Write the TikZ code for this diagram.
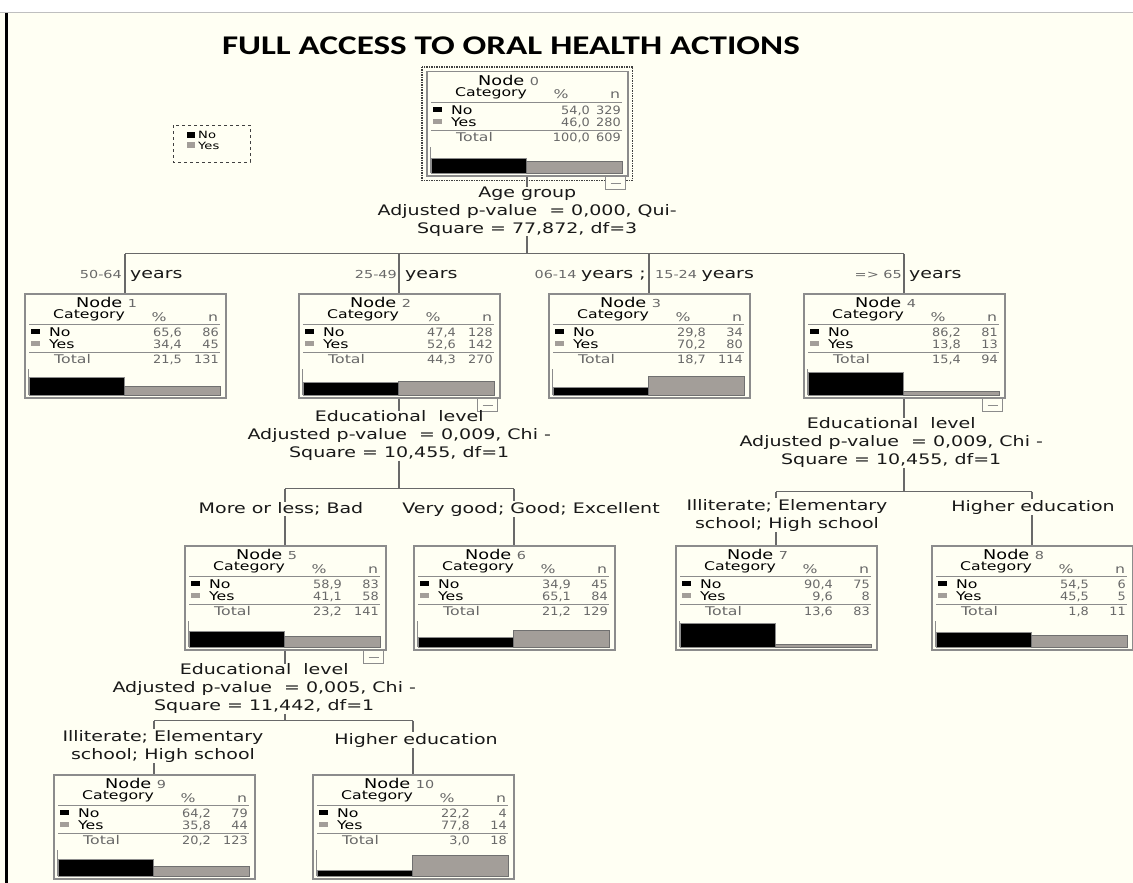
\documentclass[tikz,border=0pt]{standalone}
\usepackage{fontspec}
\usetikzlibrary{positioning}

\newfontfamily\treefont[FakeStretch=1.31]{DejaVu Sans}
\newfontfamily\numfont[FakeStretch=1.12]{DejaVu Sans}
\newfontfamily\titlefont[FakeStretch=1.3]{Carlito}

\definecolor{bg}{RGB}{255,255,243}
\definecolor{boxgray}{RGB}{140,140,140}
\definecolor{linkgray}{RGB}{105,105,105}
\definecolor{numgray}{RGB}{105,105,105}
\definecolor{bargray}{RGB}{163,158,153}
\definecolor{textdark}{RGB}{25,25,25}

\newcommand\pct[1]{\pgfmathprintnumber[fixed,fixed zerofill,precision=1,use comma,assume math mode=true]{#1}}

\tikzset{
  boxframe/.style={draw=boxgray, line width=1.5pt, minimum width=201pt,
    minimum height=104pt, inner sep=0pt, anchor=north west},
  link/.style={draw=linkgray, line width=1.6pt},
  rule/.style={draw=boxgray, line width=1pt},
  toggle/.style={draw=boxgray, line width=1pt},
  cell/.style={inner sep=0pt, text=black, font=\treefont\fontsize{12}{12}\selectfont},
  cellgray/.style={cell, text=numgray},
  cellnum/.style={inner sep=0pt, text=numgray, font=\numfont\fontsize{11.5}{11.5}\selectfont},
  splittext/.style={align=center, inner sep=0pt, text=textdark,
    font=\treefont\fontsize{14.5}{18}\selectfont},
  edgelabel/.style={splittext, fill=bg, inner sep=1pt},
  agenum/.style={inner sep=0pt, text=numgray, font=\treefont\fontsize{11}{11}\selectfont},
  ageword/.style={inner sep=0pt, text=textdark, font=\treefont\fontsize{14.5}{14.5}\selectfont},
}

\begin{document}
\begin{tikzpicture}[x=1pt,y=-1pt]
  \useasboundingbox (0,0) rectangle (1133,883);
  \fill[white] (0,0) rectangle (1133,883);
  \fill[bg] (0,13) rectangle (1133,883);
  \draw[gray!50, line width=1pt] (0,13) -- (1133,13);
  \draw[line width=3pt] (6,13) -- (6,883);

  \node[font=\titlefont\bfseries\fontsize{27}{27}\selectfont, inner sep=0pt] (title)
    at (511,46) {FULL ACCESS TO ORAL HEALTH ACTIONS};

  % legend
  \draw[dashed, draw=darkgray, line width=1pt] (173,125) rectangle (250,162);
  \fill[black] (187,132) rectangle (195,138);
  \fill[bargray] (187,142) rectangle (195,148);
  \node[cell, font=\treefont\fontsize{10}{10}\selectfont, anchor=base west] (legno) at (198,139) {No};
  \node[cell, font=\treefont\fontsize{10}{10}\selectfont, anchor=base west] (legyes) at (198,149) {Yes};

  % tree nodes: left/top/number/%-column/% no/n no/% yes/n yes/% total/n total
  \foreach \L/\T/\k/\pc/\pn/\nn/\py/\ny/\pt/\nt in {
      426/71/0/164/54.0/329/46.0/280/100.0/609,
      24/293/1/158/65.6/86/34.4/45/21.5/131,
      298/293/2/158/47.4/128/52.6/142/44.3/270,
      548/293/3/158/29.8/34/70.2/80/18.7/114,
      803/293/4/158/86.2/81/13.8/13/15.4/94,
      184/545/5/158/58.9/83/41.1/58/23.2/141,
      413/545/6/158/34.9/45/65.1/84/21.2/129,
      675/545/7/158/90.4/75/9.6/8/13.6/83,
      931/545/8/158/54.5/6/45.5/5/1.8/11,
      53/774/9/158/64.2/79/35.8/44/20.2/123,
      312/774/10/158/22.2/4/77.8/14/3.0/18}{
    \begin{scope}[shift={(\L,\T)}]
      \node[boxframe] (n\k) at (0,0) {};
      \node[cell, font=\treefont\fontsize{13.5}{13.5}\selectfont, anchor=base west]
        at (52,14.5) {Node \textcolor{numgray}{\fontsize{11}{11}\selectfont\k}};
      \node[cell, anchor=base west] at (29,25.5) {Category};
      \node[cellgray, anchor=base] at (135,28) {\%};
      \node[cellgray, anchor=base] at (189,28) {n};
      \draw[rule] (5,31) -- (196,31);
      \fill[black] (7,36) rectangle (16,41);
      \node[cell, anchor=base west] at (25,43) {No};
      \node[cellnum, anchor=base east] at (\pc,43) {\pct{\pn}};
      \node[cellnum, anchor=base east] at (195,43) {\nn};
      \fill[bargray] (7,48) rectangle (16,53);
      \node[cell, anchor=base west] at (25,55) {Yes};
      \node[cellnum, anchor=base east] at (\pc,55) {\pct{\py}};
      \node[cellnum, anchor=base east] at (195,55) {\ny};
      \draw[rule] (5,59) -- (196,59);
      \node[cellgray, anchor=base west] at (30,70) {Total};
      \node[cellnum, anchor=base east] at (\pc,70) {\pct{\pt}};
      \node[cellnum, anchor=base east] at (195,70) {\nt};
      \draw[rule] (4,76) -- (4,102);
      \filldraw[fill=black, draw=boxgray, line width=1pt] (5,102) rectangle (100,{102-0.26*\pn});
      \filldraw[fill=bargray, draw=boxgray!80!black, line width=1pt] (100,102) rectangle (196,{102-0.26*\py});
    \end{scope}
  }

  % selection frame and collapse marks
  \draw[densely dotted, draw=darkgray, line width=1.5pt]
    ([shift={(-4pt,4pt)}]n0.north west) rectangle ([shift={(4pt,-4pt)}]n0.south east);
  \foreach \m in {0,2,4,5} {
    \draw[toggle, fill=bg] ([xshift=-23pt]n\m.south east) rectangle ++(20,13);
    \draw[toggle] ([xshift=-18pt,yshift=-7pt]n\m.south east) -- ++(10,0);
  }

  % splits
  \node[splittext, below=10pt of n0] (s0)
    {Age group\\Adjusted p-value~ = 0,000, Qui-\\Square = 77,872, df=3};
  \path (n0.south) ++(0,77) coordinate (j0);
  \draw[link] (n0.south) -- (s0.north);
  \draw[link] (s0.south) -- (j0);
  \draw[link] (n1.north |- j0) -- (n4.north |- j0);
  \foreach \c in {1,...,4} \draw[link] (n\c.north |- j0) -- (n\c.north);

  \node[splittext, below=12pt of n2] (s2)
    {Educational~ level\\Adjusted p-value~ = 0,009, Chi -\\Square = 10,455, df=1};
  \path (n2.south) ++(0,90) coordinate (j2);
  \draw[link] (n2.south) -- (s2.north);
  \draw[link] (s2.south) -- (j2);
  \draw[link] (n5.north |- j2) -- (n6.north |- j2);
  \foreach \c in {5,6} \draw[link] (n\c.north |- j2) -- (n\c.north);

  \node[splittext, below=19pt of n4, xshift=-13pt] (s4)
    {Educational~ level\\Adjusted p-value~ = 0,009, Chi -\\Square = 10,455, df=1};
  \path (n4.south) ++(0,93) coordinate (j4);
  \draw[link] (n4.south) -- (n4.south |- s4.north);
  \draw[link] (n4.south |- s4.south) -- (j4);
  \draw[link] (n7.north |- j4) -- (n8.north |- j4);
  \foreach \c in {7,8} \draw[link] (n\c.north |- j4) -- (n\c.north);

  \node[splittext, below=13pt of n5, xshift=-21pt] (s5)
    {Educational~ level\\Adjusted p-value~ = 0,005, Chi -\\Square = 11,442, df=1};
  \path (n5.south) ++(0,70) coordinate (j5);
  \draw[link] (n5.south) -- (n5.south |- s5.north);
  \draw[link] (n5.south |- s5.south) -- (j5);
  \draw[link] (n9.north |- j5) -- (n10.north |- j5);
  \foreach \c in {9,10} \draw[link] (n\c.north |- j5) -- (n\c.north);

  % branch labels
  \node[agenum, anchor=base east] (a1) at (122,278) {50-64};
  \node[ageword, anchor=base west] (b1) at (130,278) {years};
  \node[agenum, anchor=base east] (a2) at (397,278) {25-49};
  \node[ageword, anchor=base west] (b2) at (405,278) {years};
  \node[agenum, anchor=base east] (a3) at (646,278) {06-14 \textcolor{textdark}{\fontsize{14.5}{14.5}\selectfont years ;}};
  \node[agenum, anchor=base west] (b3) at (655,278) {15-24 \textcolor{textdark}{\fontsize{14.5}{14.5}\selectfont years}};
  \node[agenum, anchor=base east] (a4) at (902,278) {=> 65};
  \node[ageword, anchor=base west] (b4) at (909,278) {years};

  \node[edgelabel] (e5) at (281,509) {More or less; Bad};
  \node[edgelabel] (e6) at (531,509) {Very good; Good; Excellent};
  \node[edgelabel] (e7) at (787,515) {Illiterate; Elementary\\school; High school};
  \node[edgelabel] (e8) at (1033,507) {Higher education};
  \node[edgelabel] (e9) at (163,746) {Illiterate; Elementary\\school; High school};
  \node[edgelabel] (e10) at (416,740) {Higher education};
\end{tikzpicture}
\end{document}
